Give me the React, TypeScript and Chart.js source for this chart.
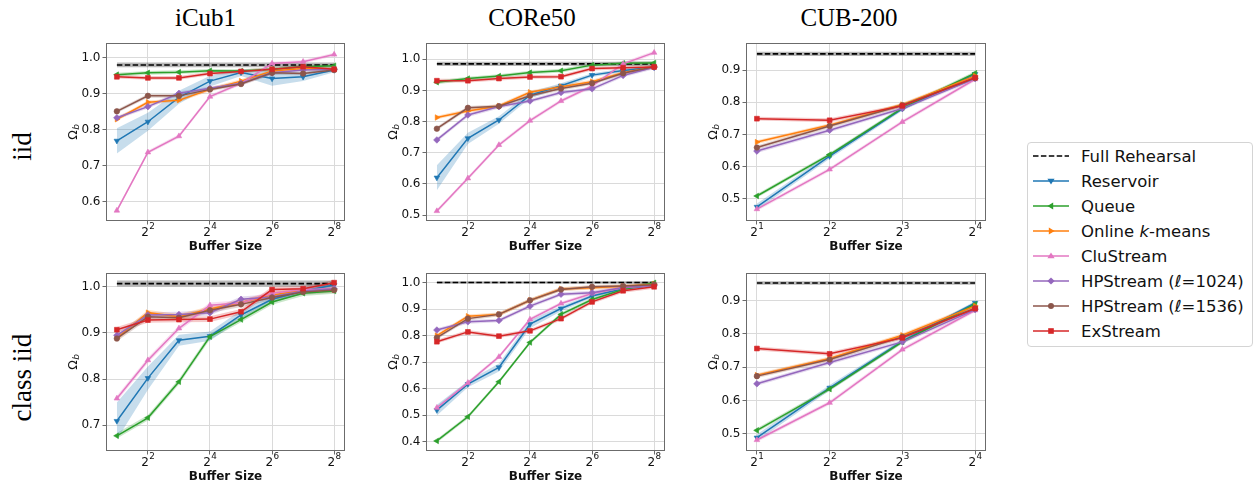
import React, { useEffect, useRef } from 'react';
import { Chart, registerables } from 'chart.js';

Chart.register(...registerables);

// ---------- data ----------
const seriesNames = ['Reservoir', 'Queue', 'Online k-means', 'CluStream', 'HPStream (ℓ=1024)', 'HPStream (ℓ=1536)', 'ExStream'];
const seriesColors = ['#1f77b4', '#2ca02c', '#ff7f0e', '#e377c2', '#9467bd', '#8c564b', '#d62728'];

const bufferSizes = [2, 4, 8, 16, 32, 64, 128, 256];
const bufferSizesCub = [2, 4, 8, 16];
const xTicksLarge = [4, 16, 64, 256];
const xTicksCub = [2, 4, 8, 16];

const columnTitles = ['iCub1', 'CORe50', 'CUB-200'];
const rowTitles = ['iid', 'class iid'];

// iCub1 - iid
const icubIidFull = 0.980;
const icubIidReservoir = [0.769, 0.822, 0.890, 0.935, 0.959, 0.942, 0.947, 0.966];
const icubIidReservoirStd = [0.035, 0.025, 0.018, 0.015, 0.01, 0.02, 0.012, 0.006];
const icubIidQueue = [0.953, 0.958, 0.960, 0.964, 0.963, 0.968, 0.975, 0.978];
const icubIidKmeans = [0.829, 0.876, 0.882, 0.912, 0.935, 0.963, 0.970, 0.968];
const icubIidCluStream = [0.575, 0.737, 0.782, 0.892, 0.929, 0.984, 0.989, 1.009];
const icubIidHp1024 = [0.833, 0.864, 0.901, 0.915, 0.929, 0.958, 0.966, 0.968];
const icubIidHp1536 = [0.851, 0.894, 0.894, 0.912, 0.927, 0.958, 0.956, 0.966];
const icubIidExStream = [0.947, 0.944, 0.944, 0.956, 0.962, 0.968, 0.975, 0.968];

// CORe50 - iid
const coreIidFull = 0.985;
const coreIidReservoir = [0.620, 0.746, 0.805, 0.885, 0.915, 0.949, 0.964, 0.974];
const coreIidReservoirStd = [0.04, 0.018, 0.012, 0.01, 0.008, 0.006, 0.005, 0.004];
const coreIidQueue = [0.926, 0.938, 0.946, 0.957, 0.963, 0.981, 0.987, 0.988];
const coreIidKmeans = [0.813, 0.834, 0.850, 0.894, 0.912, 0.928, 0.957, 0.976];
const coreIidCluStream = [0.513, 0.618, 0.725, 0.803, 0.866, 0.914, 0.985, 1.021];
const coreIidHp1024 = [0.741, 0.821, 0.848, 0.866, 0.893, 0.905, 0.948, 0.974];
const coreIidHp1536 = [0.777, 0.844, 0.849, 0.883, 0.906, 0.923, 0.955, 0.976];
const coreIidExStream = [0.931, 0.931, 0.938, 0.943, 0.944, 0.970, 0.973, 0.975];

// CUB-200 - iid
const cubIidFull = 0.951;
const cubIidReservoir = [0.474, 0.632, 0.780, 0.888];
const cubIidReservoirStd = [0.01, 0.008, 0.006, 0.005];
const cubIidQueue = [0.508, 0.637, 0.782, 0.891];
const cubIidKmeans = [0.676, 0.729, 0.793, 0.882];
const cubIidCluStream = [0.467, 0.591, 0.739, 0.872];
const cubIidHp1024 = [0.648, 0.713, 0.781, 0.874];
const cubIidHp1536 = [0.659, 0.726, 0.791, 0.876];
const cubIidExStream = [0.749, 0.744, 0.789, 0.877];

// iCub1 - class iid
const icubClassFull = 1.007;
const icubClassReservoir = [0.709, 0.802, 0.884, 0.893, 0.939, 0.973, 0.991, 1.004];
const icubClassReservoirStd = [0.04, 0.025, 0.012, 0.01, 0.01, 0.008, 0.005, 0.004];
const icubClassQueue = [0.677, 0.716, 0.794, 0.892, 0.929, 0.967, 0.986, 0.991];
const icubClassKmeans = [0.889, 0.944, 0.935, 0.952, 0.966, 0.982, 0.993, 0.994];
const icubClassCluStream = [0.758, 0.841, 0.910, 0.960, 0.965, 0.986, 0.994, 0.996];
const icubClassHp1024 = [0.895, 0.939, 0.940, 0.944, 0.973, 0.978, 0.991, 0.996];
const icubClassHp1536 = [0.888, 0.935, 0.933, 0.949, 0.962, 0.977, 0.989, 0.993];
const icubClassExStream = [0.907, 0.928, 0.929, 0.930, 0.946, 0.994, 0.996, 1.009];

// CORe50 - class iid
const coreClassFull = 1.000;
const coreClassReservoir = [0.519, 0.617, 0.680, 0.843, 0.902, 0.949, 0.977, 0.990];
const coreClassReservoirStd = [0.02, 0.012, 0.015, 0.015, 0.01, 0.006, 0.004, 0.003];
const coreClassQueue = [0.403, 0.494, 0.626, 0.774, 0.880, 0.936, 0.974, 0.999];
const coreClassKmeans = [0.800, 0.873, 0.880, 0.933, 0.976, 0.980, 0.986, 0.994];
const coreClassCluStream = [0.528, 0.622, 0.720, 0.861, 0.921, 0.959, 0.980, 0.990];
const coreClassHp1024 = [0.821, 0.852, 0.857, 0.911, 0.956, 0.962, 0.981, 0.990];
const coreClassHp1536 = [0.792, 0.864, 0.880, 0.933, 0.974, 0.984, 0.987, 0.992];
const coreClassExStream = [0.777, 0.814, 0.798, 0.818, 0.864, 0.927, 0.969, 0.984];

// CUB-200 - class iid
const cubClassFull = 0.953;
const cubClassReservoir = [0.488, 0.638, 0.778, 0.893];
const cubClassReservoirStd = [0.01, 0.008, 0.006, 0.005];
const cubClassQueue = [0.510, 0.634, 0.776, 0.889];
const cubClassKmeans = [0.676, 0.726, 0.796, 0.884];
const cubClassCluStream = [0.481, 0.593, 0.753, 0.871];
const cubClassHp1024 = [0.650, 0.714, 0.776, 0.873];
const cubClassHp1536 = [0.673, 0.723, 0.791, 0.877];
const cubClassExStream = [0.756, 0.740, 0.788, 0.876];

const yTicksIcubIid = [0.6, 0.7, 0.8, 0.9, 1.0];
const yTicksCoreIid = [0.5, 0.6, 0.7, 0.8, 0.9, 1.0];
const yTicksCubIid = [0.5, 0.6, 0.7, 0.8, 0.9];
const yTicksIcubClass = [0.7, 0.8, 0.9, 1.0];
const yTicksCoreClass = [0.4, 0.5, 0.6, 0.7, 0.8, 0.9, 1.0];
const yTicksCubClass = [0.5, 0.6, 0.7, 0.8, 0.9];

// ---------- styling / layout ----------
const FONT = '"DejaVu Sans", sans-serif';
const TEXT = '#111111';
const SPINE = '#6b6b6b';
const GRID = '#dadada';
const Y_AXIS_W = 46;
const X_AXIS_H = 33;
const PAD = 12;

const pointStyles: { style: string; rot: number; r: number }[] = [
  { style: 'triangle', rot: 180, r: 3.2 },
  { style: 'triangle', rot: 270, r: 3.2 },
  { style: 'triangle', rot: 90, r: 3.2 },
  { style: 'triangle', rot: 0, r: 3.2 },
  { style: 'rectRot', rot: 0, r: 3.3 },
  { style: 'circle', rot: 0, r: 2.8 },
  { style: 'rect', rot: 0, r: 3.4 },
];

type PanelDef = {
  left: number; top: number; w: number; h: number;
  sizes: number[]; xTicks: number[]; yTicks: number[];
  yMin: number; yMax: number; xMinExp: number; xMaxExp: number;
  full: number; fullStd: number;
  series: number[][]; resStd: number[]; otherStd: number;
};

const panels: PanelDef[] = [
  { left: 106, top: 43, w: 239, h: 178, sizes: bufferSizes, xTicks: xTicksLarge, yTicks: yTicksIcubIid, yMin: 0.546, yMax: 1.041, xMinExp: 0.65, xMaxExp: 8.35,
    full: icubIidFull, fullStd: 0.0065, resStd: icubIidReservoirStd, otherStd: 0.005,
    series: [icubIidReservoir, icubIidQueue, icubIidKmeans, icubIidCluStream, icubIidHp1024, icubIidHp1536, icubIidExStream] },
  { left: 426, top: 43, w: 239, h: 178, sizes: bufferSizes, xTicks: xTicksLarge, yTicks: yTicksCoreIid, yMin: 0.481, yMax: 1.052, xMinExp: 0.65, xMaxExp: 8.35,
    full: coreIidFull, fullStd: 0.0065, resStd: coreIidReservoirStd, otherStd: 0.006,
    series: [coreIidReservoir, coreIidQueue, coreIidKmeans, coreIidCluStream, coreIidHp1024, coreIidHp1536, coreIidExStream] },
  { left: 746, top: 43, w: 240, h: 178, sizes: bufferSizesCub, xTicks: xTicksCub, yTicks: yTicksCubIid, yMin: 0.43, yMax: 0.985, xMinExp: 0.85, xMaxExp: 4.15,
    full: cubIidFull, fullStd: 0.0065, resStd: cubIidReservoirStd, otherStd: 0.006,
    series: [cubIidReservoir, cubIidQueue, cubIidKmeans, cubIidCluStream, cubIidHp1024, cubIidHp1536, cubIidExStream] },
  { left: 106, top: 273, w: 239, h: 178, sizes: bufferSizes, xTicks: xTicksLarge, yTicks: yTicksIcubClass, yMin: 0.644, yMax: 1.030, xMinExp: 0.65, xMaxExp: 8.35,
    full: icubClassFull, fullStd: 0.0065, resStd: icubClassReservoirStd, otherStd: 0.006,
    series: [icubClassReservoir, icubClassQueue, icubClassKmeans, icubClassCluStream, icubClassHp1024, icubClassHp1536, icubClassExStream] },
  { left: 426, top: 273, w: 239, h: 178, sizes: bufferSizes, xTicks: xTicksLarge, yTicks: yTicksCoreClass, yMin: 0.365, yMax: 1.036, xMinExp: 0.65, xMaxExp: 8.35,
    full: coreClassFull, fullStd: 0.0045, resStd: coreClassReservoirStd, otherStd: 0.007,
    series: [coreClassReservoir, coreClassQueue, coreClassKmeans, coreClassCluStream, coreClassHp1024, coreClassHp1536, coreClassExStream] },
  { left: 746, top: 273, w: 240, h: 178, sizes: bufferSizesCub, xTicks: xTicksCub, yTicks: yTicksCubClass, yMin: 0.448, yMax: 0.983, xMinExp: 0.85, xMaxExp: 4.15,
    full: cubClassFull, fullStd: 0.005, resStd: cubClassReservoirStd, otherStd: 0.006,
    series: [cubClassReservoir, cubClassQueue, cubClassKmeans, cubClassCluStream, cubClassHp1024, cubClassHp1536, cubClassExStream] },
];

function rgba(hex: string, a: number) {
  const n = parseInt(hex.slice(1), 16);
  return `rgba(${(n >> 16) & 255},${(n >> 8) & 255},${n & 255},${a})`;
}

const decorPlugin = {
  id: 'decor',
  afterDatasetsDraw(chart: any) {
    const { ctx, chartArea: a } = chart;
    ctx.save();
    ctx.strokeStyle = SPINE;
    ctx.lineWidth = 1;
    ctx.strokeRect(a.left + 0.5, a.top + 0.5, a.right - a.left - 1, a.bottom - a.top - 1);
    ctx.restore();
  },
  afterDraw(chart: any) {
    const { ctx, chartArea: a, scales } = chart;
    const xs = scales.x;
    ctx.save();
    ctx.fillStyle = TEXT;
    ctx.textBaseline = 'alphabetic';
    ctx.textAlign = 'left';
    for (const t of xs.ticks) {
      const px = xs.getPixelForValue(t.value);
      const exp = String(Math.round(Math.log2(t.value)));
      ctx.font = `12px ${FONT}`;
      const bw = ctx.measureText('2').width;
      ctx.font = `8.8px ${FONT}`;
      const ew = ctx.measureText(exp).width;
      const x0 = px - (bw + ew) / 2;
      ctx.font = `12px ${FONT}`;
      ctx.fillText('2', x0, a.bottom + 15);
      ctx.font = `8.8px ${FONT}`;
      ctx.fillText(exp, x0 + bw + 0.3, a.bottom + 8.4);
    }
    // y title: Omega_b
    ctx.translate(a.left - 29.3, (a.top + a.bottom) / 2);
    ctx.rotate(-Math.PI / 2);
    ctx.font = `12.5px ${FONT}`;
    const ow = ctx.measureText('Ω').width;
    ctx.font = `italic 9px ${FONT}`;
    const sw = ctx.measureText('b').width;
    const sx = -(ow + sw) / 2;
    ctx.font = `12.5px ${FONT}`;
    ctx.fillText('Ω', sx, 0);
    ctx.font = `italic 9px ${FONT}`;
    ctx.fillText('b', sx + ow + 0.3, 2.6);
    ctx.restore();
  },
};

function buildConfig(p: PanelDef): any {
  const datasets: any[] = [];
  const pts = (vals: number[]) => p.sizes.map((x, j) => ({ x, y: vals[j] }));
  // full rehearsal band
  const fullVals = p.sizes.map(() => p.full);
  datasets.push({ data: pts(fullVals.map((v) => v + p.fullStd)), borderWidth: 0, pointRadius: 0, fill: false, order: 100 });
  datasets.push({ data: pts(fullVals.map((v) => v - p.fullStd)), borderWidth: 0, pointRadius: 0, fill: '-1', backgroundColor: 'rgba(0,0,0,0.28)', order: 100 });
  p.series.forEach((vals, i) => {
    const std = i === 0 ? p.resStd : vals.map(() => p.otherStd);
    datasets.push({ data: pts(vals.map((v, j) => v + std[j])), borderWidth: 0, pointRadius: 0, fill: false, order: 100 });
    datasets.push({ data: pts(vals.map((v, j) => v - std[j])), borderWidth: 0, pointRadius: 0, fill: '-1', backgroundColor: rgba(seriesColors[i], 0.25), order: 100 });
  });
  datasets.push({
    label: 'Full Rehearsal', data: pts(fullVals), borderColor: '#000', borderWidth: 1.6, borderDash: [5.5, 2.4],
    pointRadius: 0, fill: false, order: 20,
  });
  p.series.forEach((vals, i) => {
    const ps = pointStyles[i];
    datasets.push({
      label: seriesNames[i], data: pts(vals), borderColor: seriesColors[i], backgroundColor: seriesColors[i],
      borderWidth: 1.5, pointStyle: ps.style, pointRotation: ps.rot, pointRadius: ps.r,
      pointBackgroundColor: seriesColors[i], pointBorderColor: seriesColors[i], pointBorderWidth: 0.6,
      fill: false, tension: 0, order: 10 - i,
    });
  });
  return {
    type: 'line',
    data: { datasets },
    plugins: [decorPlugin],
    options: {
      animation: false,
      responsive: false,
      events: [],
      layout: { padding: { top: PAD, right: PAD, left: 0, bottom: 0 } },
      plugins: { legend: { display: false }, tooltip: { enabled: false } },
      scales: {
        x: {
          type: 'logarithmic',
          bounds: 'data',
          min: Math.pow(2, p.xMinExp),
          max: Math.pow(2, p.xMaxExp),
          afterBuildTicks: (s: any) => { s.ticks = p.xTicks.map((v) => ({ value: v })); },
          afterFit: (s: any) => { s.height = X_AXIS_H; },
          ticks: { display: false },
          grid: { color: GRID, lineWidth: 1, tickColor: SPINE, tickLength: 3.5, drawTicks: true },
          border: { display: false },
          title: { display: true, text: 'Buffer Size', color: TEXT, padding: 0, font: { family: FONT, size: 12, weight: 'bold' } },
        },
        y: {
          type: 'linear',
          bounds: 'data',
          min: p.yMin,
          max: p.yMax,
          afterBuildTicks: (s: any) => { s.ticks = p.yTicks.map((v) => ({ value: v })); },
          afterFit: (s: any) => { s.width = Y_AXIS_W; },
          ticks: { color: TEXT, padding: 2, font: { family: FONT, size: 12 }, callback: (v: any) => Number(v).toFixed(1), autoSkip: false },
          grid: { color: GRID, lineWidth: 1, tickColor: SPINE, tickLength: 3.5, drawTicks: true },
          border: { display: false },
        },
      },
    },
  };
}

function Panel({ p }: { p: PanelDef }) {
  const ref = useRef<HTMLCanvasElement>(null);
  const cw = Y_AXIS_W + p.w + PAD;
  const ch = PAD + p.h + X_AXIS_H;
  useEffect(() => {
    const chart = new Chart(ref.current as HTMLCanvasElement, buildConfig(p));
    return () => chart.destroy();
  }, []);
  return (
    <canvas
      ref={ref}
      width={cw}
      height={ch}
      style={{ position: 'absolute', left: p.left - Y_AXIS_W, top: p.top - PAD, width: cw, height: ch }}
    />
  );
}

function LegendMarker({ i }: { i: number }) {
  const c = seriesColors[i];
  const cx = 18, cy = 6, r = 3.6;
  if (i === 0) return <polygon points={`${cx - r},${cy - r * 0.6} ${cx + r},${cy - r * 0.6} ${cx},${cy + r}`} fill={c} />;
  if (i === 1) return <polygon points={`${cx - r},${cy} ${cx + r * 0.6},${cy - r} ${cx + r * 0.6},${cy + r}`} fill={c} />;
  if (i === 2) return <polygon points={`${cx + r},${cy} ${cx - r * 0.6},${cy - r} ${cx - r * 0.6},${cy + r}`} fill={c} />;
  if (i === 3) return <polygon points={`${cx - r},${cy + r * 0.6} ${cx + r},${cy + r * 0.6} ${cx},${cy - r}`} fill={c} />;
  if (i === 4) return <polygon points={`${cx},${cy - r} ${cx + r},${cy} ${cx},${cy + r} ${cx - r},${cy}`} fill={c} />;
  if (i === 5) return <circle cx={cx} cy={cy} r={3} fill={c} />;
  return <rect x={cx - 2.8} y={cy - 2.8} width={5.6} height={5.6} fill={c} />;
}

function LegendLabel({ name }: { name: string }) {
  if (name === 'Online k-means') return <span>Online <i>k</i>-means</span>;
  return <span>{name}</span>;
}

function Legend() {
  const rows = ['Full Rehearsal', ...seriesNames];
  return (
    <div style={{
      position: 'absolute', left: 1027, top: 142, width: 226, height: 205, boxSizing: 'border-box',
      border: '1px solid #d4d4d4', borderRadius: 4, background: '#fff', paddingTop: 0.5,
    }}>
      {rows.map((name, k) => (
        <div key={name} style={{ position: 'relative', height: 25, display: 'flex', alignItems: 'center' }}>
          <svg width={36} height={12} style={{ position: 'absolute', left: 5, top: 6.5 }}>
            {k === 0 ? (
              <line x1={0} y1={6} x2={36} y2={6} stroke="#000" strokeWidth={1.6} strokeDasharray="5.5 2.4" />
            ) : (
              <>
                <line x1={0} y1={6} x2={36} y2={6} stroke={seriesColors[k - 1]} strokeWidth={1.6} />
                <LegendMarker i={k - 1} />
              </>
            )}
          </svg>
          <div style={{ position: 'absolute', left: 53, fontFamily: FONT, fontSize: 16.5, color: TEXT, whiteSpace: 'nowrap', lineHeight: '25px' }}>
            <LegendLabel name={name} />
          </div>
        </div>
      ))}
    </div>
  );
}

const titleCenters = [205.5, 532, 849];
const rowCenters = [146, 377];

export default function App() {
  return (
    <div style={{ position: 'fixed', left: 0, top: 0, width: 1257, height: 487, background: '#fff', overflow: 'hidden' }}>
      {columnTitles.map((t, i) => (
        <div key={t} style={{
          position: 'absolute', left: titleCenters[i] - 100, top: 5, width: 200, textAlign: 'center',
          fontFamily: '"Liberation Serif", serif', fontSize: 25, lineHeight: '25px', color: '#000',
        }}>{t}</div>
      ))}
      {rowTitles.map((t, i) => (
        <div key={t} style={{
          position: 'absolute', left: 21.6 - 100, top: rowCenters[i] - 13.5, width: 200, height: 27, textAlign: 'center',
          fontFamily: '"Liberation Serif", serif', fontSize: 27, lineHeight: '27px', color: '#000',
          transform: 'rotate(-90deg)', transformOrigin: '50% 50%', whiteSpace: 'nowrap',
        }}>{t}</div>
      ))}
      {panels.map((p, i) => <Panel key={i} p={p} />)}
      <Legend />
    </div>
  );
}
